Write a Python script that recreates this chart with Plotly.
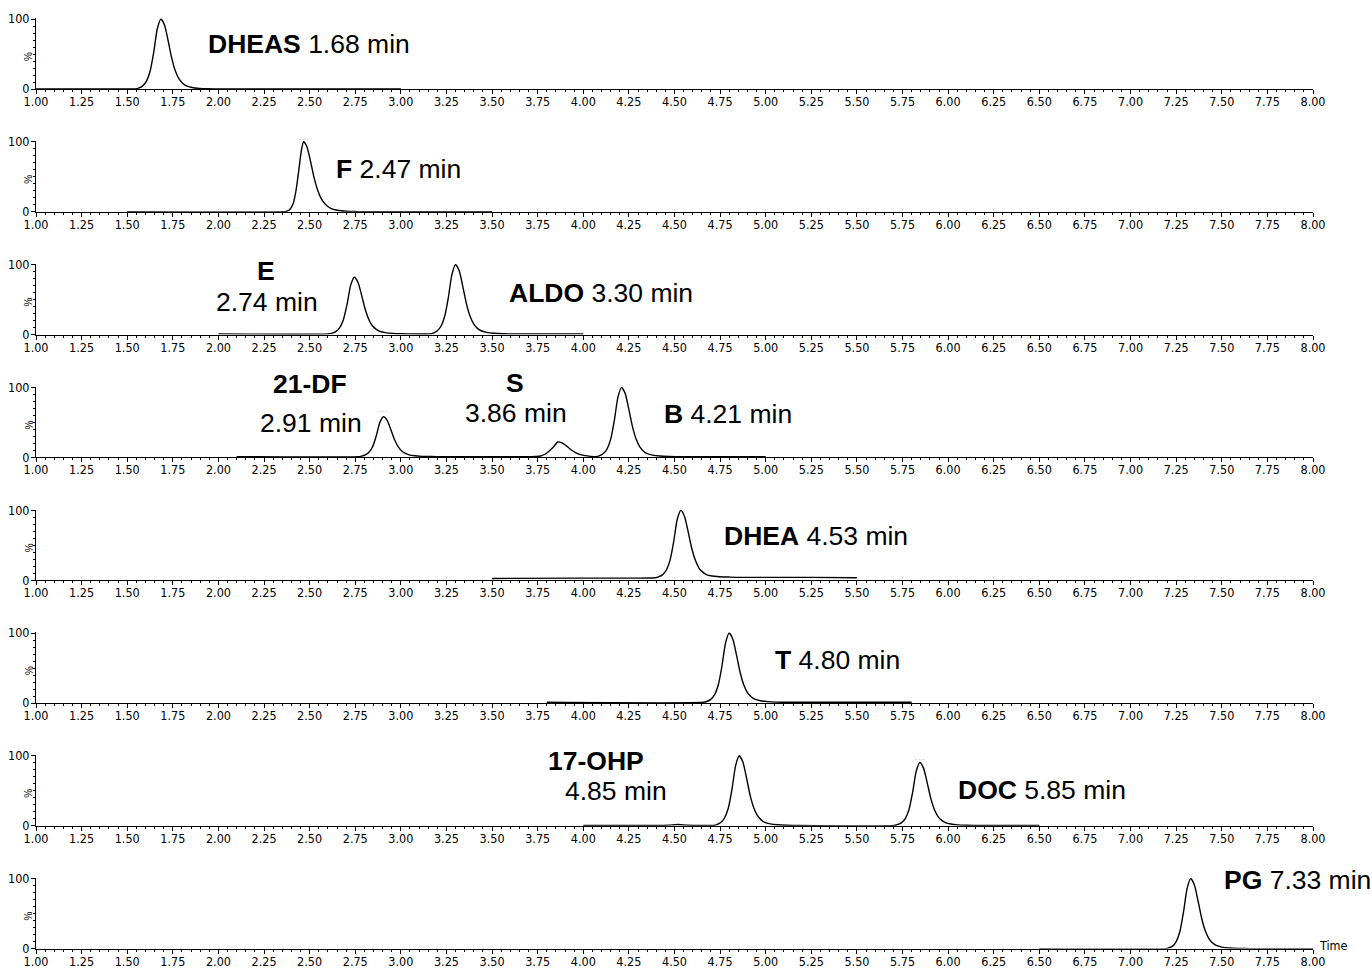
import plotly.graph_objects as go
from plotly.subplots import make_subplots

# ---------------- data ----------------
# retention time (min) and relative intensity (%) for each chromatogram trace
t1 = [1.00, 1.50, 1.545, 1.565, 1.585, 1.605, 1.625, 1.645, 1.665, 1.685, 1.705, 1.725, 1.745, 1.765, 1.785,
      1.805, 1.825, 1.855, 1.895, 1.945, 2.005, 3.00]
y1 = [0, 0, 0, 1.5, 4.5, 11, 25, 52, 86, 100, 91, 68, 43, 25, 14, 8, 4.5, 2.2, 0.9, 0.3, 0, 0]

t2 = [1.50, 2.35, 2.37, 2.39, 2.41, 2.425, 2.44, 2.455, 2.467, 2.485, 2.505, 2.525, 2.545, 2.565, 2.585,
      2.605, 2.63, 2.66, 2.70, 2.76, 2.83, 3.50]
y2 = [0, 0, 0.5, 3, 12, 30, 58, 88, 100, 93, 72, 48, 30, 18, 11, 6.5, 3.5, 1.8, 0.8, 0.3, 0, 0]

t3 = [2.00, 2.60, 2.625, 2.645, 2.665, 2.685, 2.705, 2.725, 2.745, 2.765, 2.785, 2.805, 2.825, 2.845, 2.865,
      2.885, 2.915, 2.955, 3.005, 3.065,
      3.16, 3.18, 3.20, 3.22, 3.24, 3.26, 3.28, 3.30, 3.32, 3.34, 3.36, 3.38, 3.40, 3.42, 3.44, 3.47, 3.51,
      3.56, 3.62, 4.00]
y3 = [1, 1, 2.2, 4.6, 9.9, 21.3, 43.1, 70.7, 82, 74.7, 56.1, 35.8, 21.3, 12.3, 7.5, 4.6, 2.8, 1.7, 1.2, 1,
      1, 2.5, 5.5, 11.9, 25.8, 52.5, 86.1, 100, 91.1, 68.3, 43.6, 25.8, 14.9, 8.9, 5.5, 3.2, 1.9, 1.3, 1, 1]

t4 = [2.10, 2.765, 2.785, 2.805, 2.825, 2.845, 2.865, 2.885, 2.905, 2.925, 2.945, 2.965, 2.985, 3.005, 3.025,
      3.045, 3.075, 3.115, 3.165, 3.225,
      3.70, 3.74, 3.77, 3.79, 3.81, 3.835, 3.86, 3.885, 3.91, 3.935, 3.96, 3.985, 4.01, 4.04,
      4.07, 4.09, 4.11, 4.13, 4.15, 4.17, 4.19, 4.21, 4.23, 4.25, 4.27, 4.29, 4.31, 4.33, 4.35, 4.38, 4.42,
      4.47, 4.53, 5.00]
y4 = [1, 1, 1.9, 3.6, 7.3, 15.3, 30.6, 50, 58, 52.9, 39.8, 25.5, 15.3, 9, 5.6, 3.6, 2.3, 1.5, 1.2, 1,
      1, 1.3, 2.4, 4.5, 8.5, 14.5, 22, 20.5, 16, 10.5, 6.5, 4, 2.5, 1.5,
      1, 2.5, 5.5, 11.9, 25.8, 52.5, 86.1, 100, 91.1, 68.3, 43.6, 25.8, 14.9, 8.9, 5.5, 3.2, 1.9, 1.3, 1, 1]

t5 = [3.50, 4.00, 4.395, 4.415, 4.435, 4.455, 4.475, 4.495, 4.515, 4.535, 4.555, 4.575, 4.595, 4.615, 4.635,
      4.655, 4.675, 4.705, 4.745, 4.795, 4.855, 5.00, 5.25, 5.50]
y5 = [2.5, 3, 3.5, 5, 8, 14.5, 28, 54, 87, 100, 91, 69, 45, 28, 17, 11.5, 8, 6, 5, 4.5, 4, 4, 4, 3.5]

t6 = [3.80, 4.66, 4.68, 4.70, 4.72, 4.74, 4.76, 4.78, 4.80, 4.82, 4.84, 4.86, 4.88, 4.90, 4.92, 4.94, 4.97,
      5.01, 5.06, 5.12, 5.80]
y6 = [1, 1, 2.5, 5.5, 11.9, 25.8, 52.5, 86.1, 100, 91.1, 68.3, 43.6, 25.8, 14.9, 8.9, 5.5, 3.2, 1.9, 1.3, 1, 1]

t7 = [4.00, 4.40, 4.47, 4.52, 4.57, 4.65,
      4.715, 4.735, 4.755, 4.775, 4.795, 4.815, 4.835, 4.855, 4.875, 4.895, 4.915, 4.935, 4.955, 4.975, 4.995,
      5.025, 5.065, 5.115, 5.175,
      5.705, 5.725, 5.745, 5.765, 5.785, 5.805, 5.825, 5.845, 5.865, 5.885, 5.905, 5.925, 5.945, 5.965, 5.985,
      6.015, 6.055, 6.105, 6.165, 6.50]
y7 = [0.5, 0.5, 1, 1.8, 1, 0.5,
      0.5, 2, 5, 11.5, 25.4, 52.2, 86, 100, 91, 68, 43.2, 25.4, 14.4, 8.5, 5, 2.7, 1.4, 0.8, 0.5,
      0.5, 1.9, 4.6, 10.4, 23, 47.3, 77.9, 90.5, 82.4, 61.7, 39.2, 23, 13.1, 7.7, 4.6, 2.5, 1.3, 0.8, 0.5, 0.5]

t8 = [6.50, 7.19, 7.21, 7.23, 7.25, 7.27, 7.29, 7.31, 7.33, 7.35, 7.37, 7.39, 7.41, 7.43, 7.45, 7.47, 7.50,
      7.54, 7.59, 7.65, 8.00]
y8 = [0, 0, 1, 3.5, 10, 24, 52, 86, 100, 91, 68, 43, 25, 14, 8, 4.5, 2.2, 0.9, 0.3, 0, 0]

times = [t1, t2, t3, t4, t5, t6, t7, t8]
intensities = [y1, y2, y3, y4, y5, y6, y7, y8]

# peak labels: panel, x [min], y [% of panel height], text, horizontal anchor
label_panel = [1, 2, 3, 3, 3, 4, 4, 4, 4, 4, 5, 6, 7, 7, 7, 8]
label_x = [1.93, 2.635, 2.26, 2.265, 3.58, 2.50, 2.505, 3.625, 3.63, 4.43, 4.76, 5.04, 4.07, 4.18, 6.043, 7.50]
label_y = [64, 61, 91, 46, 59, 105, 49, 106, 63, 62, 63, 61, 93, 50, 51, 98]
label_text = ["<b>DHEAS</b> 1.68 min", "<b>F</b> 2.47 min", "<b>E</b>", "2.74 min", "<b>ALDO</b> 3.30 min",
              "<b>21-DF</b>", "2.91 min", "<b>S</b>", "3.86 min", "<b>B</b> 4.21 min",
              "<b>DHEA</b> 4.53 min", "<b>T</b> 4.80 min", "<b>17-OHP</b>", "4.85 min", "<b>DOC</b> 5.85 min",
              "<b>PG</b> 7.33 min"]
label_anchor = ["left", "left", "center", "center", "left", "center", "center", "center", "center", "left",
                "left", "left", "center", "center", "left", "left"]

# faint residual marks drawn just above some apexes in the original
mark_panel = [2, 4, 7]
mark_x = [2.465, 2.90, 5.845]
mark_y = [104, 66, 96]

x_min, x_max = 1.0, 8.0
y_ticks = [0, 100]

# ---------------- figure ----------------
W, H = 1372, 971
n = len(times)
fig = make_subplots(rows=n, cols=1)

x_left_px, x_right_px = 36, 1313
base0, spacing, plot_h = 89.0, 122.8, 70.0
yr_top = 101.0

tick_font = dict(family="Liberation Sans Narrow, Arial Narrow, DejaVu Sans Condensed, sans-serif", size=12.5,
                 color="black")
label_font = dict(family="Liberation Sans, Arial, sans-serif", size=26.5, color="black")

domains = []
for i in range(n):
    fig.add_trace(go.Scatter(x=times[i], y=intensities[i], mode="lines",
                             line=dict(color="black", width=1.4, shape="spline", smoothing=0.6),
                             showlegend=False, hoverinfo="skip"), row=i + 1, col=1)
    base = base0 + spacing * i
    top = base - plot_h * yr_top / 100.0
    dom = [1 - base / H, 1 - top / H]
    domains.append(dom)
    ax = "" if i == 0 else str(i + 1)
    fig.layout["yaxis" + ax].update(
        domain=dom, range=[0, yr_top], automargin=False,
        tickvals=y_ticks, ticks="outside", ticklen=4, tickcolor="black", tickwidth=1,
        minor=dict(dtick=10, tick0=0, ticks="outside", ticklen=2, tickcolor="black"),
        showline=True, linecolor="black", linewidth=1, showgrid=False, zeroline=False,
        tickfont=tick_font, ticklabelstandoff=-1, fixedrange=True)
    fig.layout["xaxis" + ax].update(
        domain=[x_left_px / W, x_right_px / W], range=[x_min, x_max], automargin=False,
        tick0=1.0, dtick=0.25, tickformat=".2f", ticks="outside", ticklen=4, tickcolor="black", tickwidth=1,
        minor=dict(dtick=0.05, tick0=1.0, ticks="outside", ticklen=2, tickcolor="black"),
        showline=True, linecolor="black", linewidth=1, showgrid=False, zeroline=False,
        tickfont=tick_font, ticklabelstandoff=-3, fixedrange=True)
    # "%" axis label
    fig.add_annotation(text="%", xref="paper", yref="paper", x=29 / W, y=1 - (base - 33) / H,
                       textangle=-90, showarrow=False,
                       font=dict(family="Liberation Sans, Arial", size=10, color="black"),
                       xanchor="center", yanchor="middle")

for p, x, y, txt, anc in zip(label_panel, label_x, label_y, label_text, label_anchor):
    ax = "" if p == 1 else str(p)
    d0, d1 = domains[p - 1]
    ypaper = d0 + (y / yr_top) * (d1 - d0)
    fig.add_annotation(text=txt, xref="x" + ax, yref="paper", x=x, y=ypaper, showarrow=False,
                       xanchor=anc, yanchor="middle", font=label_font)

for p, x, y in zip(mark_panel, mark_x, mark_y):
    ax = "" if p == 1 else str(p)
    d0, d1 = domains[p - 1]
    ypaper = d0 + (y / yr_top) * (d1 - d0)
    fig.add_annotation(text="- - -", xref="x" + ax, yref="paper", x=x, y=ypaper, showarrow=False,
                       xanchor="center", yanchor="middle",
                       font=dict(family="Liberation Sans, Arial", size=6, color="#9a9a9a"))

fig.add_annotation(text="Time", xref="paper", yref="paper", x=1317 / W, y=1 - 945 / H, showarrow=False,
                   xanchor="left", yanchor="middle", font=tick_font)

fig.update_layout(width=W, height=H, autosize=False, margin=dict(l=0, r=0, t=0, b=0, pad=0),
                  paper_bgcolor="white", plot_bgcolor="white")

fig.write_html("out.html")
